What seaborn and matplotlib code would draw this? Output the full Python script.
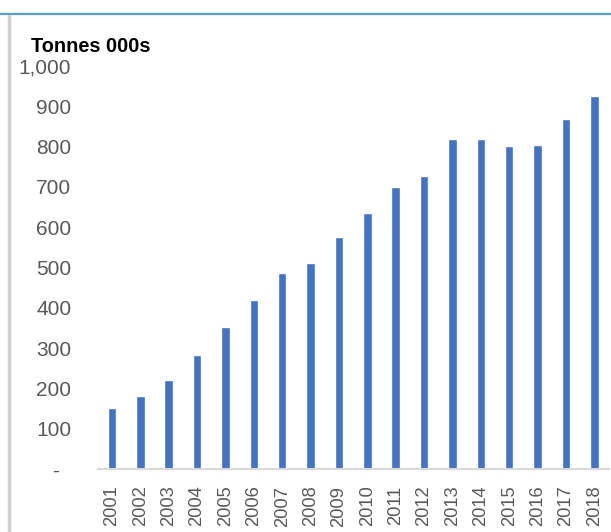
import matplotlib
matplotlib.use("Agg")
import matplotlib.pyplot as plt
from matplotlib.lines import Line2D
import pandas as pd
import seaborn as sns

# Annual volumes, thousand tonnes
years = ["2001", "2002", "2003", "2004", "2005", "2006", "2007", "2008", "2009",
         "2010", "2011", "2012", "2013", "2014", "2015", "2016", "2017", "2018"]
volumes = [151, 181, 221, 283, 353, 419, 486, 512, 575,
           636, 700, 727, 819, 819, 801, 804, 868, 926]
y_ticks = [0, 100, 200, 300, 400, 500, 600, 700, 800, 900, 1000]
y_tick_labels = ["-  ", "100", "200", "300", "400", "500", "600", "700", "800", "900", "1,000"]
unit_label = "Tonnes 000s"

df = pd.DataFrame({"year": years, "volume": volumes})

sns.set_theme(style="white")
plt.rcParams["font.family"] = ["Liberation Sans", "DejaVu Sans"]

fig = plt.figure(figsize=(6.11, 5.32), dpi=100)
ax = fig.add_axes([0.160, 0.1184, 0.836, 0.7576])

sns.barplot(data=df, x="year", y="volume", color="#4472C4", width=0.30,
            saturation=1, ax=ax)

ax.set_xlim(-0.5, len(years) - 0.5)
ax.set_ylim(0, 1000)
ax.set_yticks(y_ticks)
ax.set_yticklabels(y_tick_labels)
ax.set_xlabel("")
ax.set_ylabel("")

for side in ["top", "right", "left"]:
    ax.spines[side].set_visible(False)
ax.spines["bottom"].set_color("#d9d9d9")
ax.spines["bottom"].set_linewidth(1.5)

ax.tick_params(axis="y", length=0, pad=19, labelsize=15, labelcolor="#595959")
ax.tick_params(axis="x", length=0, pad=12, labelsize=13.2, labelcolor="#595959",
               labelrotation=90)

fig.text(31 / 611, 1 - 47 / 532, unit_label, fontsize=14.3, fontweight="bold",
         color="black", ha="left", va="center")

# Frame accents: blue rule across the top, grey rule down the left side
fig.add_artist(Line2D([0, 1], [1 - 14 / 532, 1 - 14 / 532], transform=fig.transFigure,
                      color="#5B9BD5", linewidth=1.6))
fig.add_artist(Line2D([9 / 611, 9 / 611], [0, 1 - 16 / 532], transform=fig.transFigure,
                      color="#cfcfcf", linewidth=2.5))

fig.savefig("out.png", dpi=100)
